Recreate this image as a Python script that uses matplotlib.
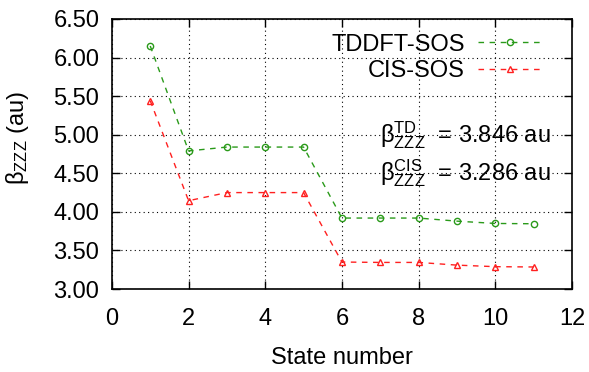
import numpy as np
import matplotlib
matplotlib.use("Agg")
import matplotlib.pyplot as plt

plt.rcParams['font.family'] = ['Liberation Sans', 'DejaVu Sans']
plt.rcParams['mathtext.fontset'] = 'custom'
plt.rcParams['mathtext.rm'] = 'Liberation Sans'
plt.rcParams['mathtext.it'] = 'Liberation Sans'

# state index and SOS first hyperpolarizability
states = [1, 2, 3, 4, 5, 6, 7, 8, 9, 10, 11]
beta_tddft = [6.15, 4.79, 4.84, 4.84, 4.84, 3.92, 3.92, 3.92, 3.88, 3.85, 3.846]
beta_cis = [5.44, 4.145, 4.25, 4.25, 4.25, 3.35, 3.345, 3.345, 3.31, 3.29, 3.286]
yticks = [3.00, 3.50, 4.00, 4.50, 5.00, 5.50, 6.00, 6.50]
xticks = [0, 2, 4, 6, 8, 10, 12]

fs = 17
green = '#2a9a1a'
red = '#ff2020'

fig = plt.figure(figsize=(5.89, 3.72), dpi=100)
ax = fig.add_axes([0.190, 0.223, 0.781, 0.726])

ax.plot(states, beta_tddft, linestyle=(0, (4, 4)), color=green, lw=1.0,
        marker='o', ms=4.5, mfc='none', mec=green, mew=1.0, label='TDDFT-SOS')
ax.plot(states, beta_cis, linestyle=(0, (4, 4)), color=red, lw=1.0,
        marker='^', ms=4.5, mfc='none', mec=red, mew=1.0, label='CIS-SOS')

ax.set_xlim(0, 12)
ax.set_ylim(3.0, 6.5)
ax.set_xticks(xticks)
ax.set_yticks(yticks)
ax.set_yticklabels(['%.2f' % v for v in yticks])
ax.tick_params(direction='in', top=True, right=True, length=6, width=1,
               labelsize=fs)
ax.tick_params(axis='x', pad=14)
ax.tick_params(axis='y', pad=9)
ax.grid(True, linestyle=(0, (1, 3)), color='black', lw=0.8)
for s in ax.spines.values():
    s.set_linewidth(1.2)

ax.set_xlabel('State number', fontsize=fs, labelpad=12)
ax.set_ylabel(r'$\mathrm{\beta_{ZZZ}}$ (au)', fontsize=fs)
ax.yaxis.set_label_coords(-0.175, 0.56)

leg = ax.legend(loc='upper right', markerfirst=False, frameon=False,
                fontsize=fs, handlelength=2.75, handletextpad=0.55,
                borderaxespad=0.0, labelspacing=0.2,
                bbox_to_anchor=(0.957, 0.981))
for t in leg.get_texts():
    t.set_ha('right')

ax.text(0.583, 0.570, r'$\mathrm{\beta^{TD}_{ZZZ}}$  = 3.846 au',
        transform=ax.transAxes, fontsize=fs, va='center', ha='left')
ax.text(0.583, 0.430, r'$\mathrm{\beta^{CIS}_{ZZZ}}$  = 3.286 au',
        transform=ax.transAxes, fontsize=fs, va='center', ha='left')

fig.savefig('out.png', dpi=100)
